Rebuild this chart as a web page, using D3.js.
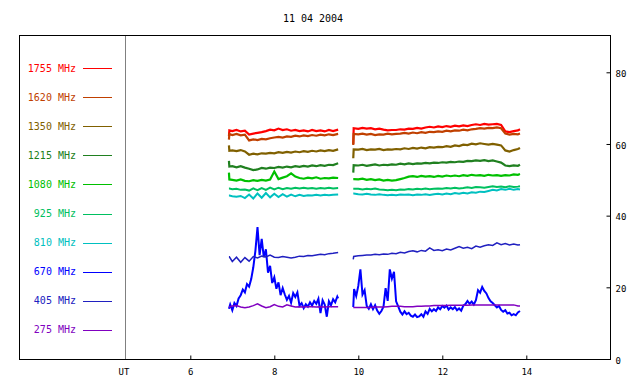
<!DOCTYPE html>
<html><head><meta charset="utf-8">
<script src="https://cdn.jsdelivr.net/npm/d3@7"></script>
<style>body{margin:0;background:#fff} svg{display:block}</style>
</head><body><svg id="c" width="640" height="384"></svg>
<script>
const titleText = "11 04 2004";
const freqLabels = ["1755 MHz","1620 MHz","1350 MHz","1215 MHz","1080 MHz","925 MHz","810 MHz","670 MHz","405 MHz","275 MHz"];
const freqColors = ["#ff0000","#c04000","#806000","#208020","#00c000","#00c060","#00c0c0","#0000ff","#2020c0","#8000c0"];
const xTicks = [6,8,10,12,14];
const yTicks = [0,20,40,60,80];

const seg1Times = [6.92,6.93,7.0,7.1,7.2,7.3,7.4,7.5,7.6,7.7,7.8,7.9,8.0,8.1,8.2,8.3,8.4,8.5,8.6,8.7,8.8,8.9,9.0,9.1,9.2,9.3,9.4,9.52];
const seg2Times = [9.88,9.89,10.0,10.1,10.2,10.3,10.4,10.5,10.6,10.7,10.8,10.9,11.0,11.1,11.2,11.3,11.4,11.5,11.6,11.7,11.8,11.9,12.0,12.1,12.2,12.3,12.4,12.5,12.6,12.7,12.8,12.9,13.0,13.1,13.2,13.3,13.4,13.5,13.6,13.7,13.8,13.85];

const f1755a = [62.2,63.8,63.6,63.9,63.5,63.7,62.6,62.9,63.1,63.3,63.6,64.0,63.8,64.3,63.9,64.1,63.7,63.9,63.6,63.8,63.5,63.9,63.6,63.8,63.5,63.9,63.6,64.0];
const f1755b = [60.0,64.4,64.2,64.5,64.3,64.4,64.1,64.3,64.0,63.8,63.9,63.9,64.1,64.0,64.3,64.2,64.5,64.3,64.6,64.8,64.6,64.9,64.7,65.0,64.8,65.1,64.9,65.2,65.0,65.3,65.5,65.3,65.6,65.4,65.5,65.6,65.3,63.5,63.3,63.6,63.8,64.1];
const f1620a = [61.2,62.8,62.5,62.8,62.4,62.6,61.0,61.3,61.1,61.4,61.3,61.6,61.8,62.0,61.8,62.1,62.0,62.3,62.1,62.4,62.2,62.5,62.3,62.6,62.4,62.7,62.5,62.8];
const f1620b = [59.7,62.8,62.7,62.9,62.6,62.8,62.5,62.7,62.6,62.9,62.7,62.8,62.9,63.1,62.9,63.2,63.0,63.3,63.1,63.4,63.3,63.5,63.4,63.7,63.5,63.8,63.7,64.0,63.8,64.1,64.2,64.4,64.3,64.5,64.4,64.6,64.4,62.9,62.6,62.8,62.7,62.9];
const f1350a = [59.6,58.1,58.2,58.0,58.3,57.9,57.0,57.3,57.1,57.4,57.3,57.5,57.4,57.7,57.5,57.8,57.6,57.9,57.7,58.0,57.8,58.1,57.9,58.2,58.0,58.3,58.1,58.5];
const f1350b = [56.0,58.5,58.4,58.6,58.3,58.5,58.4,58.6,58.3,58.5,58.4,58.6,58.5,58.8,58.6,58.9,58.7,59.0,58.8,59.1,59.0,59.2,59.1,59.4,59.2,59.6,59.4,59.8,59.7,60.1,59.9,60.2,60.0,59.8,60.0,59.8,59.6,58.2,57.9,58.3,58.6,58.9];
const f1215a = [55.3,53.7,53.8,53.5,53.8,53.4,53.1,52.7,52.9,53.3,53.1,53.4,53.3,53.6,53.4,53.7,53.5,53.8,53.6,53.9,53.7,54.0,53.8,54.1,53.9,54.2,54.1,54.6];
const f1215b = [52.0,54.1,54.0,54.2,53.9,54.1,54.3,54.0,54.2,54.1,54.3,54.2,54.5,54.3,54.6,54.4,54.6,54.5,54.7,54.6,54.8,54.7,54.9,54.8,55.0,54.9,55.1,55.0,55.3,55.2,55.4,55.3,55.5,55.2,55.4,55.1,54.8,54.0,53.8,54.0,53.9,54.2];
const f1080a = [52.0,50.1,50.0,49.8,50.1,49.7,49.6,49.9,49.7,50.0,49.8,50.1,52.3,50.2,50.6,51.0,51.8,50.9,50.5,50.3,50.6,50.4,50.7,50.3,50.5,50.4,50.6,50.5];
const f1080b = [50.2,50.2,50.1,50.3,50.0,50.2,49.9,50.1,49.8,50.0,49.8,49.9,50.2,50.5,50.9,51.0,50.8,51.1,50.9,51.0,50.8,51.1,50.9,51.2,51.0,51.2,51.0,51.3,51.1,51.4,51.2,51.3,51.1,51.4,51.2,51.3,51.1,51.3,51.2,51.5,51.4,51.6];
const f925a = [47.6,47.6,47.4,47.5,47.2,47.3,47.0,47.6,47.1,47.7,47.2,47.8,47.3,47.8,47.4,47.7,47.5,47.8,47.6,47.8,47.6,47.7,47.5,47.7,47.6,47.8,47.6,47.7];
const f925b = [47.5,47.5,47.5,47.3,47.5,47.4,47.6,47.3,47.2,47.1,47.2,47.1,47.3,47.2,47.4,47.3,47.5,47.4,47.6,47.4,47.5,47.6,47.5,47.7,47.6,47.8,47.6,47.7,47.9,47.7,48.0,47.9,47.8,48.0,48.2,48.0,48.1,47.9,48.2,48.0,48.1,48.2];
const f810a = [45.6,45.6,45.4,45.3,45.5,44.9,45.9,44.8,46.2,45.0,46.3,45.1,46.1,45.2,46.0,45.3,45.9,45.4,45.8,45.5,45.7,45.6,45.8,45.6,45.8,45.7,45.8,45.9];
const f810b = [46.2,46.2,46.0,45.9,46.1,45.9,45.8,46.0,45.8,45.7,45.8,45.7,45.9,45.8,45.9,45.7,45.9,45.8,46.0,45.8,46.0,46.1,45.9,46.2,46.0,46.3,46.1,46.4,46.2,46.5,46.4,46.7,46.6,46.9,47.2,47.0,47.4,47.2,47.5,47.2,47.4,47.3];
const f405a = [28.5,28.5,27.2,28.4,27.0,28.3,27.3,28.6,28.2,28.7,28.5,29.0,28.4,28.3,28.6,28.4,28.2,28.4,28.7,28.6,28.9,28.8,29.0,29.2,29.1,29.4,29.5,29.7];
const f405b = [27.8,28.6,28.8,28.9,29.0,29.0,29.2,29.1,29.3,29.2,29.5,29.4,29.8,29.6,30.0,30.2,29.9,30.3,30.1,31.0,30.3,30.5,30.2,30.7,30.4,30.9,31.4,30.9,31.2,30.8,31.5,31.2,31.6,31.9,31.7,32.4,31.9,32.2,31.8,32.1,31.8,31.9];
const f275a = [14.5,14.5,14.8,14.9,14.5,14.3,14.5,14.9,15.4,14.8,14.3,14.6,15.2,14.7,14.5,15.1,14.8,14.5,14.6,14.5,14.6,14.6,14.5,14.6,14.5,14.6,14.6,14.6];
const f275b = [14.4,14.4,14.4,14.4,14.4,14.4,14.5,14.5,14.5,14.6,14.7,14.7,14.7,14.6,14.6,14.6,14.7,14.7,14.8,14.8,14.9,14.9,14.9,14.9,15.0,15.0,15.0,15.0,15.0,15.1,15.1,15.1,15.1,15.1,15.1,15.1,15.1,15.1,15.1,15.1,14.8,14.8];

const t670a = [6.92,6.95,7.00,7.05,7.10,7.15,7.20,7.25,7.30,7.35,7.40,7.45,7.50,7.55,7.60,7.65,7.70,7.75,7.80,7.85,7.90,7.95,8.00,8.05,8.10,8.15,8.20,8.25,8.30,8.35,8.40,8.45,8.50,8.55,8.60,8.65,8.70,8.75,8.80,8.85,8.90,8.95,9.00,9.05,9.10,9.15,9.20,9.25,9.30,9.35,9.40,9.45,9.50,9.52];
const f670a = [14.0,15.2,13.6,15.6,14.8,16.9,17.8,19.4,18.6,20.9,20.2,22.3,25.6,30.2,36.8,29.0,33.5,28.4,30.6,24.1,26.0,21.2,22.8,19.6,21.4,17.8,19.8,18.0,16.5,17.6,15.7,18.4,17.3,18.6,14.9,15.6,14.2,15.3,14.6,15.8,14.9,16.2,15.4,16.8,12.8,16.4,15.2,11.8,16.1,15.0,16.7,15.8,17.4,16.9];
const t670b = [9.88,9.90,9.95,10.00,10.05,10.10,10.15,10.20,10.25,10.30,10.35,10.40,10.45,10.50,10.55,10.60,10.65,10.70,10.75,10.80,10.85,10.90,10.95,11.00,11.05,11.10,11.15,11.20,11.25,11.30,11.35,11.40,11.45,11.50,11.55,11.60,11.65,11.70,11.75,11.80,11.85,11.90,11.95,12.00,12.05,12.10,12.15,12.20,12.25,12.30,12.35,12.40,12.45,12.50,12.55,12.60,12.65,12.70,12.75,12.80,12.85,12.90,12.95,13.00,13.05,13.10,13.15,13.20,13.25,13.30,13.35,13.40,13.45,13.50,13.55,13.60,13.65,13.70,13.75,13.80,13.85];
const f670b = [14.5,19.5,17.6,20.4,25.0,18.0,19.2,14.8,14.0,15.3,13.9,15.0,13.5,12.6,13.4,14.6,19.8,16.2,25.0,22.4,24.3,16.1,14.7,13.2,12.4,13.3,12.5,12.9,12.1,11.8,12.4,11.7,11.9,12.5,11.8,13.3,12.6,14.0,13.3,13.9,13.4,14.4,13.9,14.8,14.3,14.9,13.8,14.4,13.9,14.5,13.6,14.1,13.5,14.9,15.3,16.2,15.4,16.0,15.2,16.4,19.2,18.5,20.1,19.0,18.3,17.0,16.1,15.6,15.0,14.4,14.8,13.7,13.2,13.6,12.7,12.9,12.2,12.5,12.2,13.0,13.4];

const series = [
  {segs:[[seg1Times,f1755a],[seg2Times,f1755b]], w:2.2},
  {segs:[[seg1Times,f1620a],[seg2Times,f1620b]], w:2.2},
  {segs:[[seg1Times,f1350a],[seg2Times,f1350b]], w:2.2},
  {segs:[[seg1Times,f1215a],[seg2Times,f1215b]], w:2.2},
  {segs:[[seg1Times,f1080a],[seg2Times,f1080b]], w:2.2},
  {segs:[[seg1Times,f925a],[seg2Times,f925b]], w:2},
  {segs:[[seg1Times,f810a],[seg2Times,f810b]], w:2},
  {segs:[[t670a,f670a],[t670b,f670b]], w:2},
  {segs:[[seg1Times,f405a],[seg2Times,f405b]], w:1.5},
  {segs:[[seg1Times,f275a],[seg2Times,f275b]], w:1.5}
];

const FONT = "'DejaVu Sans Mono', monospace";
const svg = d3.select("#c");
const L = 19, R = 610, T = 35, B = 359;
const x = d3.scaleLinear().domain([6,14]).range([190.3,526.3]);
const y = d3.scaleLinear().domain([0,80]).range([359,72.3]);

svg.append("text").attr("x",313).attr("y",22).attr("text-anchor","middle")
  .attr("font-family",FONT).attr("font-size",10).attr("fill","#000").text(titleText);

svg.append("line").attr("x1",125.5).attr("x2",125.5).attr("y1",T).attr("y2",B)
  .attr("stroke","#808080").attr("stroke-width",1);

svg.append("rect").attr("x",L+0.5).attr("y",T+0.5).attr("width",R-L).attr("height",B-T)
  .attr("fill","none").attr("stroke","#000").attr("stroke-width",1);

const gx = svg.append("g").attr("transform",`translate(0,${B+0.5})`)
  .call(d3.axisBottom(x).tickValues(xTicks).tickSize(-4).tickPadding(9).tickFormat(d3.format("d")));
gx.select(".domain").remove();
gx.selectAll("line").attr("stroke","#000");
gx.selectAll("text").attr("font-family",FONT).attr("font-size",9).attr("fill","#000");
svg.append("text").attr("x",124).attr("y",375).attr("text-anchor","middle")
  .attr("font-family",FONT).attr("font-size",9).attr("fill","#000").text("UT");

const gy = svg.append("g").attr("transform",`translate(${R+0.5},0)`)
  .call(d3.axisRight(y).tickValues(yTicks).tickSize(-4).tickPadding(5).tickFormat(d3.format("d")));
gy.select(".domain").remove();
gy.selectAll("line").attr("stroke","#000");
gy.selectAll("text").attr("font-family",FONT).attr("font-size",9).attr("fill","#000").attr("dy","0.45em");

freqLabels.forEach((lab,i)=>{
  const ly = 68 + i*29.1;
  svg.append("text").attr("x",76).attr("y",ly+3.5).attr("text-anchor","end")
    .attr("font-family",FONT).attr("font-size",10).attr("fill",freqColors[i]).text(lab);
  svg.append("line").attr("x1",83).attr("x2",112).attr("y1",Math.round(ly)+0.5).attr("y2",Math.round(ly)+0.5)
    .attr("stroke",freqColors[i]).attr("stroke-width",1);
});

const line = d3.line().x(d=>x(d[0])).y(d=>y(d[1]));
series.forEach((s,i)=>{
  s.segs.forEach(([ts,vs])=>{
    const pts = ts.map((t,k)=>[t,vs[k]]);
    svg.append("path").datum(pts).attr("d",line).attr("fill","none")
      .attr("stroke",freqColors[i]).attr("stroke-width",s.w).attr("stroke-linejoin","miter");
  });
});
</script></body></html>
